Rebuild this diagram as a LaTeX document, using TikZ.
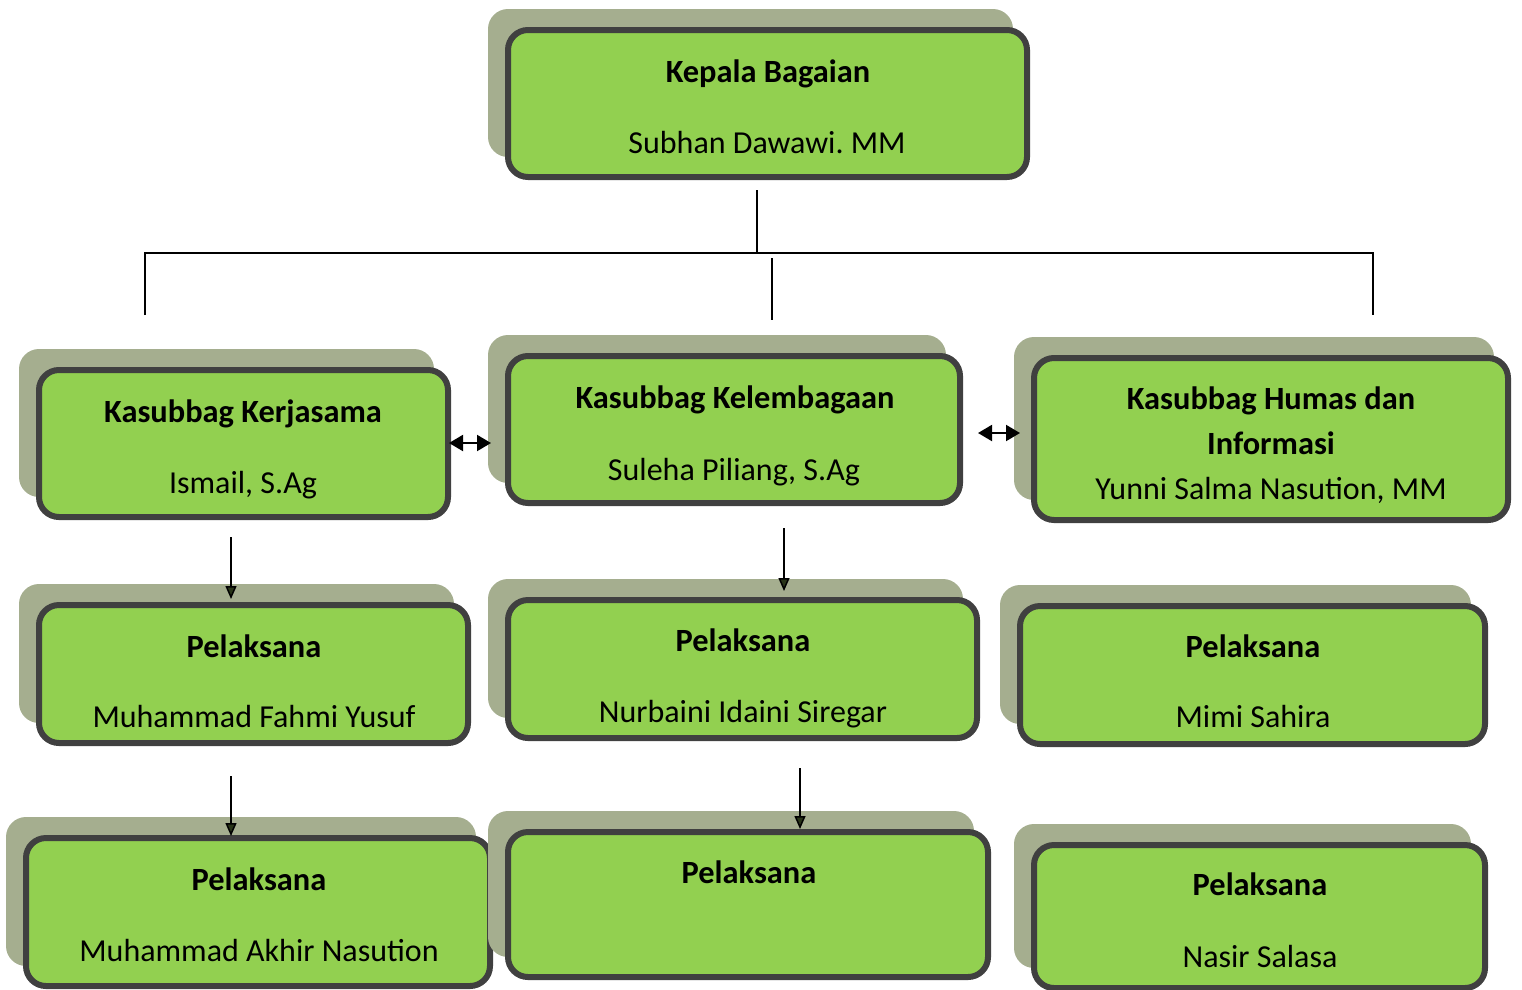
\documentclass[tikz,border=0pt]{standalone}
\usepackage{fontspec}
\setmainfont{Carlito}
\frenchspacing
\usetikzlibrary{fit,arrows.meta}
\definecolor{boxgreen}{HTML}{92D050}
\definecolor{boxborder}{HTML}{404040}
\definecolor{boxshadow}{HTML}{A5AE8F}
\definecolor{tipgreen}{HTML}{283418}
\tikzset{
  orgbox/.style={draw=boxborder, line width=6pt, fill=boxgreen, rounded corners=20pt, inner sep=0pt},
  shadowbox/.style={fill=boxshadow, rounded corners=20pt},
  title/.style={font=\fontsize{32.4}{36}\selectfont\bfseries, anchor=base, inner sep=0pt},
  person/.style={font=\fontsize{32}{36}\selectfont, anchor=base, inner sep=0pt},
  conn/.style={line width=1.5pt, black},
  downarrow/.style={line width=1.5pt, -{Triangle[length=13pt,width=11pt,fill=tipgreen]}},
  bothways/.style={line width=2pt, {Triangle[length=14pt,width=16pt]}-{Triangle[length=14pt,width=16pt]}},
}
\newcommand\orgnode[5]{%
  \path[shadowbox] (#2-20,#3-21) rectangle (#4-14,#5-20);
  \node[orgbox, fit={(#2,#3)(#4,#5)}] (#1) {};
}
\begin{document}
\begin{tikzpicture}[x=1pt,y=-1pt]
\useasboundingbox (0,0) rectangle (1522,989);
% boxes
\orgnode{top}{508}{30}{1027}{177}
\orgnode{kerja}{39}{370}{448}{517}
\orgnode{kelem}{508}{356}{960}{503}
\orgnode{humas}{1034}{358}{1508}{520}
\orgnode{pa}{39}{605}{468}{743}
\orgnode{pb}{508}{600}{977}{738}
\orgnode{pc}{1020}{606}{1485}{744}
\orgnode{pd}{26}{838}{490}{986}
\orgnode{pe}{508}{832}{988}{977}
\orgnode{pf}{1034}{845}{1485}{988}
% texts
\node[title] (t1) at (768,82) {Kepala Bagaian};
\node[person] (t2) at (767,153) {Subhan Dawawi. MM};
\node[title] (t3) at (243,422) {Kasubbag Kerjasama};
\node[person] (t4) at (243,493) {Ismail, S.Ag};
\node[title] (t5) at (735,408) {Kasubbag Kelembagaan};
\node[person] (t6) at (734,480) {Suleha Piliang, S.Ag};
\node[title] (t7) at (1271,409) {Kasubbag Humas dan};
\node[title] (t8) at (1271,454) {Informasi};
\node[person] (t9) at (1271,499) {Yunni Salma Nasution, MM};
\node[title] (t10) at (254,657) {Pelaksana};
\node[person] (t11) at (254,727) {Muhammad Fahmi Yusuf};
\node[title] (t12) at (743,651) {Pelaksana};
\node[person] (t13) at (743,722) {Nurbaini Idaini Siregar};
\node[title] (t14) at (1253,657) {Pelaksana};
\node[person] (t15) at (1253,727) {Mimi Sahira};
\node[title] (t16) at (259,890) {Pelaksana};
\node[person] (t17) at (259,961) {Muhammad Akhir Nasution};
\node[title] (t18) at (749,883) {Pelaksana};
\node[title] (t19) at (1260,895) {Pelaksana};
\node[person] (t20) at (1260,967) {Nasir Salasa};
% tree connectors
\coordinate (c0) at (757,190);
\coordinate (c1) at (757,253);
\coordinate (cl) at (145,253);
\coordinate (cr) at (1373,253);
\coordinate (dl) at (145,315);
\coordinate (dr) at (1373,315);
\coordinate (m0) at (772,258);
\coordinate (m1) at (772,320);
\draw[line width=2.5pt] (c0) -- (c1);
\draw[conn] (dl) -- (cl) -- (cr) -- (dr);
\draw[conn] (m0) -- (m1);
% double arrows
\coordinate (a1) at (449,443);
\coordinate (a2) at (491,443);
\coordinate (a3) at (978,433);
\coordinate (a4) at (1020,433);
\draw[bothways] (a1) -- (a2);
\draw[bothways] (a3) -- (a4);
% down arrows
\coordinate (d1) at (231,537);
\coordinate (d2) at (231,599);
\coordinate (d3) at (784,528);
\coordinate (d4) at (784,591);
\coordinate (d5) at (231,776);
\coordinate (d6) at (231,836);
\coordinate (d7) at (800,768);
\coordinate (d8) at (800,829);
\draw[downarrow] (d1) -- (d2);
\draw[downarrow] (d3) -- (d4);
\draw[downarrow] (d5) -- (d6);
\draw[downarrow] (d7) -- (d8);
\end{tikzpicture}
\end{document}
